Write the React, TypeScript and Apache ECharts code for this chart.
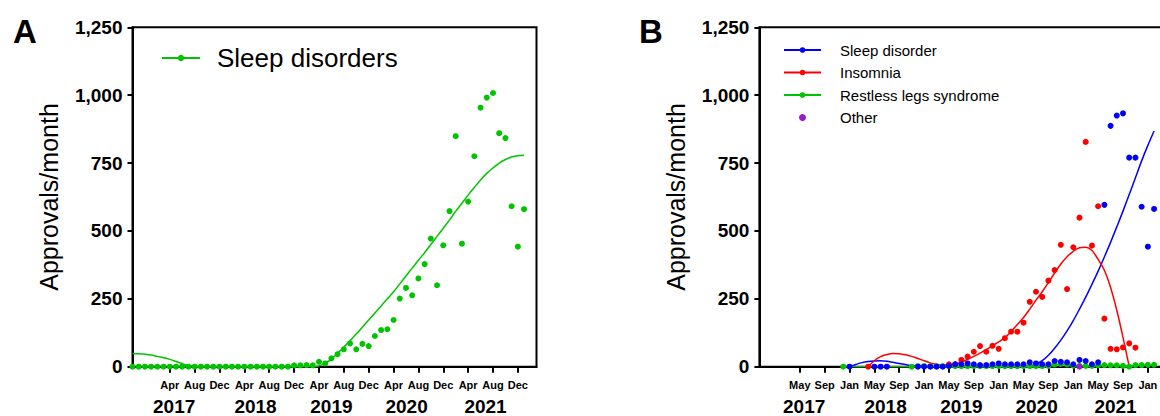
import React, { useEffect, useRef } from 'react';
import * as echarts from 'echarts';

// Month index: 0 = Jan 2017. Monthly data points.
const tickPos = [3, 7, 11, 15, 19, 23, 27, 31, 35, 39, 43, 47, 51, 55, 59];
const monthLabelsA = ['Apr', 'Aug', 'Dec', 'Apr', 'Aug', 'Dec', 'Apr', 'Aug', 'Dec', 'Apr', 'Aug', 'Dec', 'Apr', 'Aug', 'Dec'];
const monthLabelsB = ['May', 'Sep', 'Jan', 'May', 'Sep', 'Jan', 'May', 'Sep', 'Jan', 'May', 'Sep', 'Jan', 'May', 'Sep', 'Jan'];
const yearPos = [3.7, 16.8, 29, 41.1, 53.8];
const yearLabels = ['2017', '2018', '2019', '2020', '2021'];

// Panel A: Sleep disorders (monthly, starting Oct 2016 = -3)
const sleepAStart = -3;
const sleepA = [
  0, 0, 0, 0, 0, 0, 0, 0, 0, 0,
  0, 0, 0, 0, 0, 0, 0, 0, 0, 0,
  0, 0, 0, 0, 0, 0,
  5, 5, 6, 5, 18, 12,
  31, 46, 64, 86, 64, 84, 76, 113, 135, 138,
  172, 251, 290, 263, 325, 378, 472, 300, 447, 573,
  849, 453, 608, 775, 954, 991, 1008, 860, 842, 591,
  442, 580,
];
const fitAStart = -3;
const fitA = [
  49, 48, 46, 43, 38, 33, 27, 19, 11, 5,
  1, 0, 0, 0, 0, 0, 0, 0, 0, 0,
  0, 0, 0, 0, 0, 0, 0, 0, 0, 0,
  3, 13, 28, 50, 72, 96, 120, 146, 172, 198,
  224, 250, 276, 305, 334, 363, 392, 420, 450, 480,
  510, 540, 572, 602, 632, 660, 688, 712, 732, 750,
  763, 772, 777, 779,
];

// Panel B: [month, approvals]
const sleepB: [number, number][] = [
  [11, 0], [15, 0], [16, 0], [17, 0], [22, 0], [23, 0], [24, 0], [25, 0], [26, 0], [27, 3],
  [28, 9], [29, 9], [30, 12], [31, 9], [32, 6], [33, 6], [34, 9], [35, 12], [36, 9], [37, 9],
  [38, 9], [39, 9], [40, 16], [41, 12], [42, 9], [43, 9], [44, 21], [45, 18], [46, 16], [47, 9],
  [48, 25], [49, 21], [50, 9], [51, 16], [52, 596], [53, 887], [54, 925], [55, 933], [56, 770],
  [57, 770], [58, 589], [59, 442], [60, 581],
];
const insomniaB: [number, number][] = [
  [14, 0], [27, 9], [28, 9], [29, 25], [30, 37], [31, 55], [32, 76], [33, 55], [34, 77], [35, 66],
  [36, 105], [37, 129], [38, 129], [39, 162], [40, 239], [41, 276], [42, 257], [43, 317], [44, 356],
  [45, 449], [46, 286], [47, 440], [48, 549], [49, 828], [50, 446], [51, 591], [52, 177], [53, 66],
  [54, 64], [55, 71], [56, 86], [57, 70],
];
const rlsB: [number, number][] = [
  [10, 0], [21, 0], [22, 2], [23, 2], [24, 2], [25, 2], [26, 2], [27, 2], [28, 2], [29, 2],
  [30, 2], [31, 2], [32, 2], [33, 2], [34, 2], [35, 2], [36, 2], [37, 2], [38, 2], [39, 2],
  [40, 2], [41, 2], [42, 2], [43, 3], [44, 8], [45, 10], [46, 8], [47, 4], [48, 3], [49, 3],
  [50, 3], [51, 5], [52, 6], [53, 5], [54, 5], [55, 3], [56, 0], [57, 6], [58, 6], [59, 7], [60, 7],
];
const otherB: [number, number][] = [[48, 0]];

const sleepFitB: [number, number][] = [
  [11, 0], [12, 8], [13, 15], [14, 19], [15, 21], [16, 22], [17, 20], [18, 16], [19, 12], [20, 8],
  [21, 4], [22, 2], [23, 1], [24, 0], [30, 0], [36, 0], [39, 0], [40, 2], [41, 9], [42, 22],
  [43, 42], [44, 68], [45, 98], [46, 132], [47, 170], [48, 212], [49, 256], [50, 303], [51, 352],
  [52, 404], [53, 458], [54, 515], [55, 573], [56, 634], [57, 696], [58, 758], [59, 815], [60, 868],
];
const insomniaFitB: [number, number][] = [
  [14, 0], [15, 22], [16, 37], [17, 45], [18, 49], [19, 48], [20, 44], [21, 38], [22, 30], [23, 22],
  [24, 14], [25, 9], [26, 6], [27, 6], [28, 9], [29, 17], [30, 27], [31, 38], [32, 50], [33, 63],
  [34, 77], [35, 91], [36, 107], [37, 130], [38, 155], [39, 181], [40, 212], [41, 245], [42, 276],
  [43, 310], [44, 345], [45, 378], [46, 405], [47, 425], [48, 438], [49, 440], [50, 428], [51, 395],
  [52, 355], [53, 292], [54, 208], [55, 108], [56, 0],
];
const rlsFitB: [number, number][] = [
  [10, 0], [21, 0], [30, 2], [40, 2], [43, 3], [44, 6], [45, 8], [46, 7], [47, 4], [50, 3],
  [53, 5], [55, 3], [56, 1], [57, 4], [60, 6],
];

const GREEN = '#00c400';
const BLUE = '#0000ff';
const RED = '#ff0000';
const PURPLE = '#9a1ad0';
const FONT = "'Liberation Sans', Arial, Helvetica, sans-serif";

const seq = (start: number, vals: number[]) => vals.map((v, i) => [start + i, v]);

function monthAxis(gridIndex: number, min: number, max: number, labels: string[]) {
  return {
    type: 'value', gridIndex, min, max, position: 'bottom',
    axisLine: { show: true, onZero: false, lineStyle: { color: '#000', width: 2 } },
    axisTick: { show: true, customValues: tickPos, length: 6, lineStyle: { color: '#000', width: 2 } },
    axisLabel: {
      show: true, customValues: tickPos, margin: 13, color: '#000', fontFamily: FONT,
      fontSize: 11, fontWeight: 'bold',
      formatter: (v: number) => { const i = tickPos.indexOf(v); return i >= 0 ? labels[i] : ''; },
    },
    splitLine: { show: false },
  };
}
function yearAxis(gridIndex: number, min: number, max: number) {
  return {
    type: 'value', gridIndex, min, max, position: 'bottom',
    axisLine: { show: false, onZero: false }, axisTick: { show: false }, splitLine: { show: false },
    axisLabel: {
      show: true, customValues: yearPos, margin: 31, color: '#000', fontFamily: FONT,
      fontSize: 19, lineHeight: 17, fontWeight: 'bold',
      formatter: (v: number) => { const i = yearPos.indexOf(v); return i >= 0 ? yearLabels[i] : ''; },
    },
  };
}
function valueAxis(gridIndex: number) {
  return {
    type: 'value', gridIndex, min: 0, max: 1250, interval: 250,
    name: 'Approvals/month', nameLocation: 'middle', nameGap: 71, nameRotate: 90,
    nameTextStyle: { fontSize: 25, fontFamily: FONT, color: '#000' },
    axisLine: { show: true, onZero: false, lineStyle: { color: '#000', width: 2 } },
    axisTick: { show: true, length: 5, lineStyle: { color: '#000', width: 2 } },
    axisLabel: {
      margin: 10, color: '#000', fontFamily: FONT, fontSize: 19, fontWeight: 'bold',
      formatter: (v: number) => v.toLocaleString('en-US'),
    },
    splitLine: { show: false },
  };
}
function fitLine(name: string, data: any[], color: string, xi: number, yi: number) {
  return {
    type: 'line', name, data, xAxisIndex: xi, yAxisIndex: yi, symbol: 'none', smooth: 0.35,
    lineStyle: { color, width: 1.5 }, itemStyle: { color }, z: 2, silent: true,
  };
}
function dots(name: string, data: any[], color: string, xi: number, yi: number) {
  return {
    type: 'scatter', name, data, xAxisIndex: xi, yAxisIndex: yi, symbol: 'circle', symbolSize: 6,
    itemStyle: { color, opacity: 1 }, z: 3, silent: true,
  };
}

export default function App() {
  const ref = useRef<HTMLDivElement>(null);
  useEffect(() => {
    if (!ref.current) return;
    const chart = echarts.init(ref.current, undefined, { renderer: 'svg' });
    const gridCommon = { top: 27.3, height: 339.4, width: 404, show: true, borderColor: '#000', borderWidth: 2, containLabel: false, outerBoundsMode: 'none' };
    chart.setOption({
      animation: false,
      backgroundColor: '#fff',
      textStyle: { fontFamily: FONT },
      grid: [
        { ...gridCommon, left: 132.5 },
        { ...gridCommon, left: 759.4 },
      ],
      xAxis: [
        monthAxis(0, -3, 62, monthLabelsA),
        yearAxis(0, -3, 62),
        monthAxis(1, -3.5, 61.5, monthLabelsB),
        yearAxis(1, -3.5, 61.5),
      ],
      yAxis: [valueAxis(0), valueAxis(1)],
      legend: [
        {
          data: ['Sleep disorders'], left: 161, top: 45, orient: 'vertical', padding: 0,
          itemWidth: 38, itemHeight: 8, selectedMode: false,
          textStyle: { fontSize: 26, fontFamily: FONT, color: '#000', padding: [0, 0, 0, 12] },
        },
        {
          data: ['Sleep disorder', 'Insomnia', 'Restless legs syndrome', { name: 'Other', icon: 'circle' }],
          left: 783, top: 42, orient: 'vertical', itemWidth: 37, itemHeight: 7, itemGap: 6.5,
          selectedMode: false, padding: 0,
          textStyle: { fontSize: 15, fontFamily: FONT, color: '#000', lineHeight: 16, padding: [0, 0, 0, 14] },
        },
      ],
      graphic: [
        { type: 'text', left: 13, top: 15, style: { text: 'A', font: `bold 33px ${FONT}`, fill: '#000' } },
        { type: 'text', left: 639, top: 15, style: { text: 'B', font: `bold 33px ${FONT}`, fill: '#000' } },
      ],
      series: [
        fitLine('Sleep disorders', seq(fitAStart, fitA), GREEN, 0, 0),
        dots('Sleep disorders', seq(sleepAStart, sleepA), GREEN, 0, 0),
        fitLine('Sleep disorder', sleepFitB, BLUE, 2, 1),
        fitLine('Insomnia', insomniaFitB, RED, 2, 1),
        fitLine('Restless legs syndrome', rlsFitB, GREEN, 2, 1),
        dots('Restless legs syndrome', rlsB, GREEN, 2, 1),
        dots('Insomnia', insomniaB, RED, 2, 1),
        dots('Sleep disorder', sleepB, BLUE, 2, 1),
        dots('Other', otherB, PURPLE, 2, 1),
      ],
    });
    return () => chart.dispose();
  }, []);
  return <div ref={ref} style={{ position: 'fixed', left: 0, top: 0, width: 1160, height: 416, background: '#fff' }} />;
}
